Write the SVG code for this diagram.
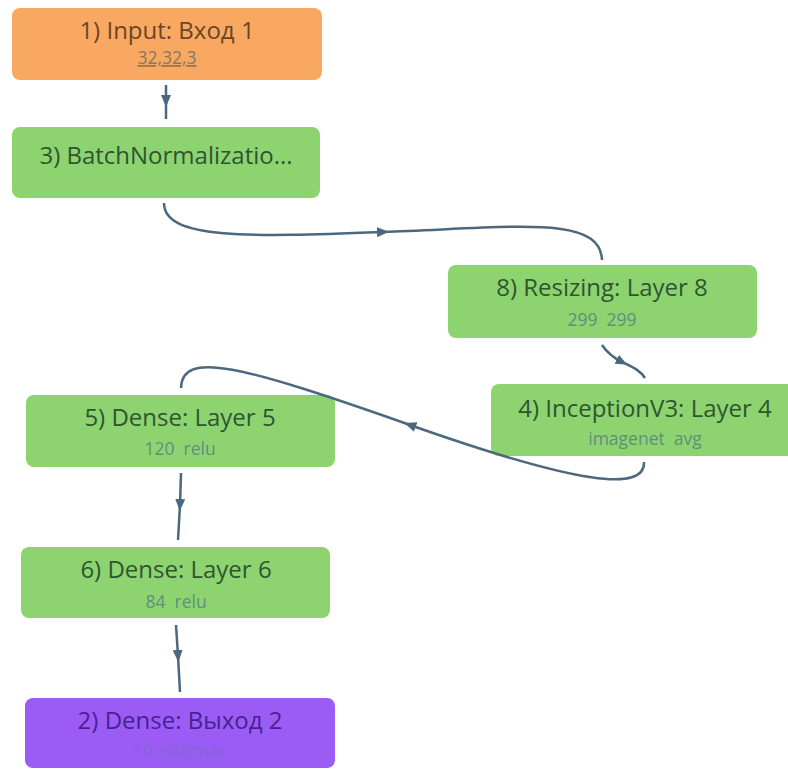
<svg xmlns="http://www.w3.org/2000/svg" width="788" height="769" viewBox="0 0 788 769">
<defs>
<style>
.box{stroke:none}
.orange{fill:#F9A861}
.green{fill:#8DD470}
.purple{fill:#9A5CF4}
.t{font-family:"Open Sans","Liberation Sans",sans-serif;font-size:24px;text-anchor:middle}
.s{font-family:"Open Sans","Liberation Sans",sans-serif;font-size:17.5px;text-anchor:middle;white-space:pre}
.to{fill:#6a4628}.so{fill:#8a7664;text-decoration:underline}
.tg{fill:#2f5530}.sg{fill:#5f8f7c}
.tp{fill:#4a1f92}.sp{fill:#8663d8}
.edge{fill:none;stroke:#4C687E;stroke-width:2.5;marker-mid:url(#arr)}
</style>
<marker id="arr" viewBox="0 0 12 10" refX="6" refY="5" markerWidth="12" markerHeight="10" markerUnits="userSpaceOnUse" orient="auto">
<path d="M0,0 L12,5 L0,10 Z" fill="#4C687E"/>
</marker>
</defs>
<rect width="788" height="769" fill="#ffffff"/>
<g id="node1">
<rect class="box orange" x="12" y="8" width="310" height="72" rx="8"/>
<text class="t to" x="167" y="39">1) Input: Вход 1</text>
<text class="s so" x="167" y="64">32,32,3</text>
</g>
<g id="node3">
<rect class="box green" x="12" y="127" width="308" height="71" rx="8"/>
<text class="t tg" x="166" y="164">3) BatchNormalizatio...</text>
</g>
<g id="node8">
<rect class="box green" x="448" y="265" width="309" height="73" rx="8"/>
<text class="t tg" x="602" y="296">8) Resizing: Layer 8</text>
<text class="s sg" x="602" y="326" xml:space="preserve">299  299</text>
</g>
<g id="node4">
<rect class="box green" x="491" y="384" width="308" height="72" rx="8"/>
<text class="t tg" x="645" y="417">4) InceptionV3: Layer 4</text>
<text class="s sg" x="645" y="445" xml:space="preserve">imagenet  avg</text>
</g>
<g id="node5">
<rect class="box green" x="26" y="395" width="309" height="72" rx="8"/>
<text class="t tg" x="180" y="426">5) Dense: Layer 5</text>
<text class="s sg" x="180" y="455" xml:space="preserve">120  relu</text>
</g>
<g id="node6">
<rect class="box green" x="21" y="547" width="309" height="71" rx="8"/>
<text class="t tg" x="176" y="578">6) Dense: Layer 6</text>
<text class="s sg" x="176" y="608" xml:space="preserve">84  relu</text>
</g>
<g id="node2">
<rect class="box purple" x="25" y="698" width="310" height="70" rx="8"/>
<text class="t tp" x="180" y="729">2) Dense: Выход 2</text>
<text class="s sp" x="180" y="757" xml:space="preserve">10  softmax</text>
</g>
<g id="connectors">
<path class="edge" d="M166,85 L166,101 L166,119"/>
<path class="edge" d="M164,203 C164,240 250,237 383,232 C520,227 600,215 602,260"/>
<path class="edge" d="M602,345 C608,354 614,358 622,362 C632,367 640,370 645,378"/>
<path class="edge" d="M644,462 C645,492 580,485 410,425 C240,365 182,350 181,388"/>
<path class="edge" d="M181,473 L180,505 L178,540"/>
<path class="edge" d="M176,625 L178,656 L180,692"/>
</g>
</svg>
